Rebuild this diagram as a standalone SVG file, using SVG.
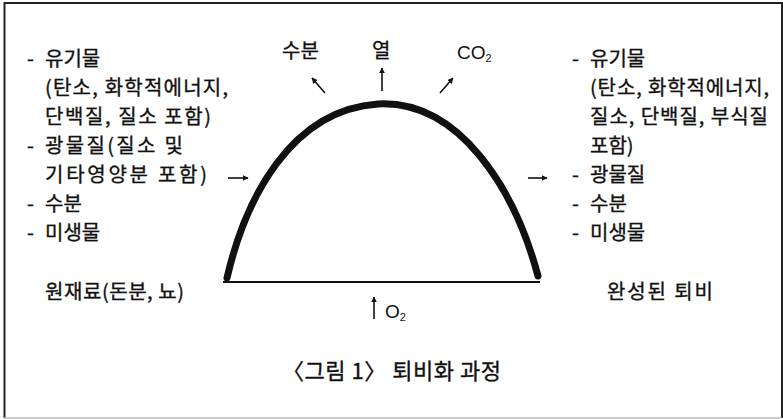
<svg xmlns="http://www.w3.org/2000/svg" width="783" height="419" viewBox="0 0 783 419">
<defs>
<style>
.t{font-family:"Noto Sans CJK KR","Liberation Sans",sans-serif;font-size:20px;fill:#111;stroke:#111;stroke-width:0.35}
.c{font-family:"Noto Sans CJK KR","Liberation Sans",sans-serif;font-size:22px;fill:#111;stroke:#111;stroke-width:0.35}
.l{font-family:"Liberation Sans",sans-serif;font-size:19px;fill:#111}
.s{font-size:11px}
.ar{stroke:#111;stroke-width:1.6;fill:none;marker-end:url(#ah)}
</style>
<marker id="ah" viewBox="0 0 10 10" refX="9" refY="5" markerWidth="6" markerHeight="6" orient="auto" markerUnits="userSpaceOnUse">
<path d="M0,0 L10,5 L0,10 Z" fill="#111"/>
</marker>
</defs>
<rect width="783" height="419" fill="#fff"/>
<g id="frame">
<path d="M4.5,418 V3 H782 V418" fill="none" stroke="#222" stroke-width="2"/>
<line x1="4" y1="418" x2="782" y2="418" stroke="#bbb" stroke-width="1.5"/>
</g>
<g id="pile">
<path d="M227,278 C245,200 290,110 378,104 C460,100 515,190 538,276" fill="none" stroke="#111" stroke-width="7" stroke-linecap="round"/>
<line x1="223" y1="282" x2="540" y2="282" stroke="#111" stroke-width="2"/>
</g>
<g id="inputs">
<text class="t" x="27" y="66">-</text><text class="t" x="45" y="66">유기물</text>
<text class="t" x="45" y="95" textLength="183" lengthAdjust="spacing">(탄소, 화학적에너지,</text>
<text class="t" x="45" y="124" textLength="166" lengthAdjust="spacing">단백질, 질소 포함)</text>
<text class="t" x="27" y="153">-</text><text class="t" x="45" y="153" textLength="138" lengthAdjust="spacing">광물질(질소 및</text>
<text class="t" x="45" y="182" textLength="162" lengthAdjust="spacing">기타영양분 포함)</text>
<text class="t" x="27" y="211">-</text><text class="t" x="45" y="211">수분</text>
<text class="t" x="27" y="240">-</text><text class="t" x="45" y="240">미생물</text>
<text class="t" x="45" y="299" textLength="139" lengthAdjust="spacing">원재료(돈분, 뇨)</text>
</g>
<g id="outputs">
<text class="t" x="572" y="66">-</text><text class="t" x="590" y="66">유기물</text>
<text class="t" x="590" y="95" textLength="179" lengthAdjust="spacing">(탄소, 화학적에너지,</text>
<text class="t" x="590" y="124" textLength="178" lengthAdjust="spacing">질소, 단백질, 부식질</text>
<text class="t" x="590" y="153">포함)</text>
<text class="t" x="572" y="182">-</text><text class="t" x="590" y="182">광물질</text>
<text class="t" x="572" y="211">-</text><text class="t" x="590" y="211">수분</text>
<text class="t" x="572" y="240">-</text><text class="t" x="590" y="240">미생물</text>
<text class="t" x="607" y="299" textLength="106" lengthAdjust="spacing">완성된 퇴비</text>
</g>
<g id="emissions">
<text class="t" x="282" y="58">수분</text>
<text class="t" x="372" y="58">열</text>
<text class="l" x="457" y="59">CO<tspan class="s" dy="3">2</tspan></text>
</g>
<g id="oxygen">
<text class="l" x="385" y="318">O<tspan class="s" dy="3">2</tspan></text>
</g>
<g id="caption">
<text class="c" x="282" y="379" textLength="219" lengthAdjust="spacing">〈그림 1〉 퇴비화 과정</text>
</g>
<g id="connectors">
<line class="ar" x1="228" y1="178" x2="248" y2="178"/>
<line class="ar" x1="528" y1="178" x2="547" y2="178"/>
<line class="ar" x1="325" y1="93" x2="312" y2="78"/>
<line class="ar" x1="382" y1="91" x2="382" y2="68"/>
<line class="ar" x1="440" y1="93" x2="453" y2="78"/>
<line class="ar" x1="374" y1="319" x2="374" y2="297"/>
</g>
</svg>
